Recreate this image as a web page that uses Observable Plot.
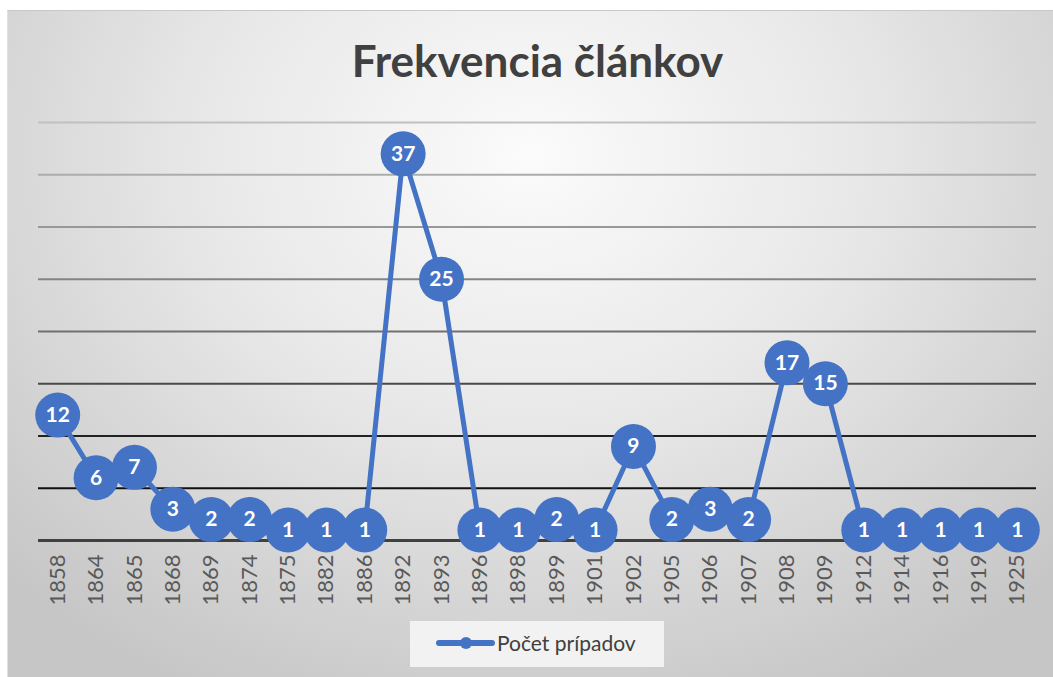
<!DOCTYPE html>
<html><head><meta charset="utf-8">
<script src="https://cdn.jsdelivr.net/npm/d3@7"></script>
<script src="https://cdn.jsdelivr.net/npm/@observablehq/plot@0.6"></script>
<style>
html,body{margin:0;padding:0;background:#fff;width:1053px;height:677px;overflow:hidden;}
#frame{position:absolute;left:7px;top:10px;width:1046px;height:667px;
  background:radial-gradient(ellipse 70% 90% at 50% 22%, #fbfbfb 0%, #e8e8e8 45%, #d2d2d2 80%, #c6c6c6 100%);
  border-top:1px solid #c8c8c8;border-left:1px solid #e0e0e0;box-sizing:border-box;}
#chart{position:absolute;left:0;top:0;}
#title{position:absolute;left:0;width:1075px;top:38px;text-align:center;font-family:Lato,"Open Sans",sans-serif;font-weight:bold;font-size:44px;line-height:44px;color:#404040;letter-spacing:0px;}
#legend{position:absolute;left:410px;top:621px;width:254px;height:46px;background:#f2f2f2;}
#legend svg{position:absolute;left:0;top:0;}
#legend span{position:absolute;left:87px;top:10px;font-family:Lato,"Open Sans",sans-serif;font-size:21px;line-height:24px;color:#404040;}
</style>
</head><body>
<div id="frame"></div>
<div id="chart"></div>
<div id="title">Frekvencia článkov</div>
<div id="legend"><svg width="90" height="46"><line x1="29" y1="22" x2="82" y2="22" stroke="#4472C4" stroke-width="6" stroke-linecap="round"/><circle cx="56" cy="22" r="6" fill="#4472C4"/></svg><span>Počet prípadov</span></div>
<script>
const years = ["1858","1864","1865","1868","1869","1874","1875","1882","1886","1892","1893","1896","1898","1899","1901","1902","1905","1906","1907","1908","1909","1912","1914","1916","1919","1925"];
const counts = [12,6,7,3,2,2,1,1,1,37,25,1,1,2,1,9,2,3,2,17,15,1,1,1,1,1];
const gridValues = [5,10,15,20,25,30,35,40];
const seriesName = "Počet prípadov";

const data = years.map((y, i) => ({year: y, count: counts[i]}));
const gridColor = d3.scaleLinear().domain([5, 10, 20, 40]).range(["#111111", "#222222", "#707070", "#c0c0c0"]);

const chart = Plot.plot({
  width: 1053,
  height: 677,
  marginLeft: 38,
  marginRight: 17,
  marginTop: 122,
  marginBottom: 137,
  style: {background: "transparent", fontFamily: "Lato, 'Open Sans', sans-serif"},
  x: {type: "point", domain: years, label: null, padding: 0.5, round: false},
  y: {domain: [0, 40], axis: null},
  color: {type: "identity"},
  marks: [
    Plot.ruleY(gridValues, {stroke: d => gridColor(d), strokeWidth: 2}),
    Plot.ruleY([0], {stroke: "#404040", strokeWidth: 3}),
    Plot.axisX({tickSize: 0, tickRotate: -90, tickPadding: 14, fontSize: 22, fill: "#595959", label: null}),
    Plot.lineY(data, {x: "year", y: "count", stroke: "#4472C4", strokeWidth: 5}),
    Plot.dot(data, {x: "year", y: "count", r: 22.5, fill: "#4472C4", stroke: "none"}),
    Plot.text(data, {x: "year", y: "count", text: d => String(d.count), fill: "white", fontWeight: "bold", fontSize: 21})
  ]
});
document.getElementById("chart").appendChild(chart);
</script>
</body></html>
